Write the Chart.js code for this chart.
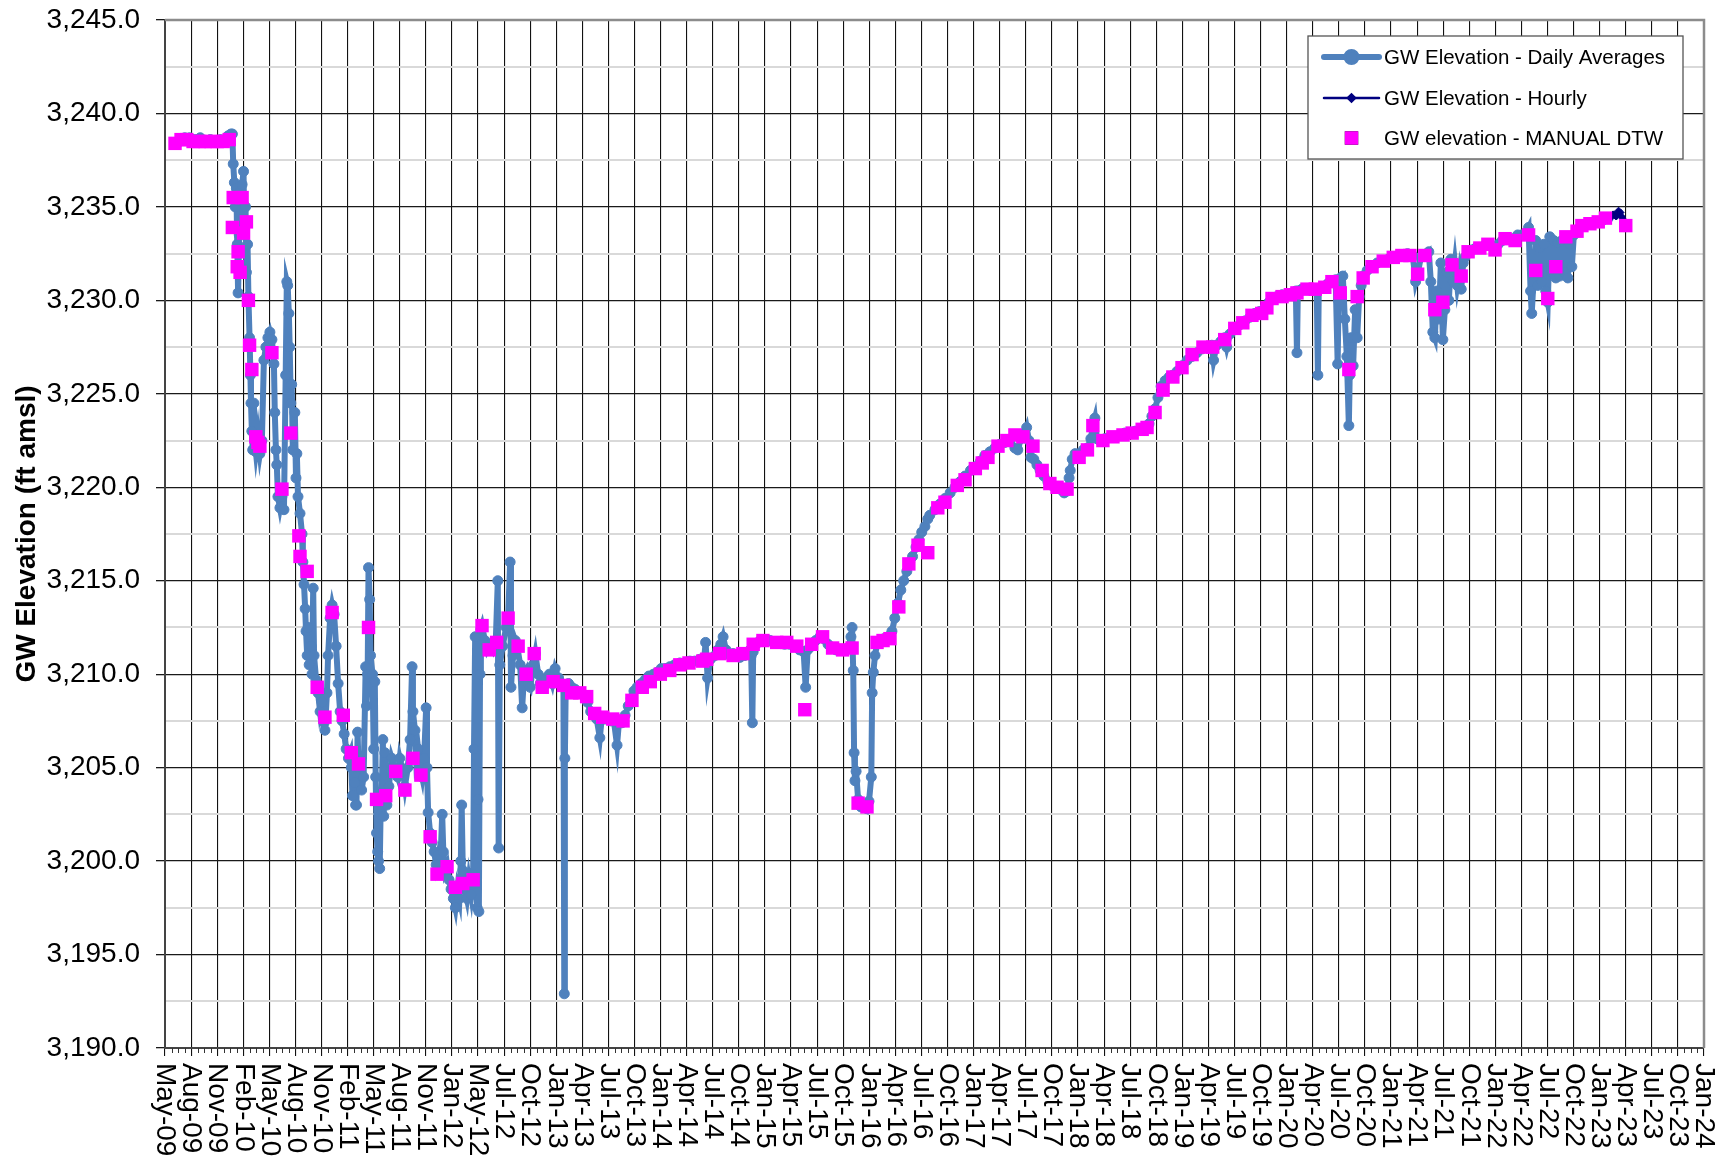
<!DOCTYPE html>
<html>
<head>
<meta charset="utf-8">
<title>GW Elevation</title>
<script src="https://cdn.jsdelivr.net/npm/chart.js@4/dist/chart.umd.min.js"></script>
<style>
  html, body { margin: 0; padding: 0; background: #fff; }
</style>
</head>
<body>
<canvas id="myChart" width="1722" height="1162"></canvas>
<script>
// x axis: Excel-style date axis, first tick 5 May 2009, one major tick every 91 days
var axisStart = '2009-05-05';
var tickStepDays = 91;
var xTickLabels = ['May-09','Aug-09','Nov-09','Feb-10','May-10','Aug-10','Nov-10','Feb-11','May-11','Aug-11',
  'Nov-11','Jan-12','May-12','Jul-12','Oct-12','Jan-13','Apr-13','Jul-13','Oct-13','Jan-14',
  'Apr-14','Jul-14','Oct-14','Jan-15','Apr-15','Jul-15','Oct-15','Jan-16','Apr-16','Jul-16',
  'Oct-16','Jan-17','Apr-17','Jul-17','Oct-17','Jan-18','Apr-18','Jul-18','Oct-18','Jan-19',
  'Apr-19','Jul-19','Oct-19','Jan-20','Apr-20','Jul-20','Oct-20','Jan-21','Apr-21','Jul-21',
  'Oct-21','Jan-22','Apr-22','Jul-22','Oct-22','Jan-23','Apr-23','Jul-23','Oct-23','Jan-24'];
var yMin = 3190, yMax = 3245;

// GW Elevation - Daily Averages
var dailyDates = [
  '2009-06-16','2009-06-26','2009-07-13','2009-07-30','2009-08-18','2009-09-05','2009-09-22','2009-10-10','2009-10-27','2009-11-14',
  '2009-12-01','2009-12-11','2009-12-21','2009-12-26','2009-12-29',
  '2010-01-02','2010-01-05','2010-01-09','2010-01-12','2010-01-15','2010-01-19','2010-01-22','2010-01-26','2010-01-29','2010-02-03',
  '2010-02-06','2010-02-10','2010-02-13','2010-02-17','2010-02-20','2010-02-24','2010-02-27','2010-03-01','2010-03-04','2010-03-07',
  '2010-03-11','2010-03-14','2010-03-18','2010-03-25','2010-04-01','2010-04-08','2010-04-15','2010-04-22','2010-04-29','2010-05-06',
  '2010-05-13','2010-05-20','2010-05-23','2010-05-27','2010-05-30','2010-06-03','2010-06-10','2010-06-17','2010-06-24','2010-06-30',
  '2010-07-04','2010-07-07','2010-07-11','2010-07-14','2010-07-18','2010-07-21','2010-07-25','2010-08-01','2010-08-05','2010-08-08',
  '2010-08-12','2010-08-19','2010-08-26','2010-08-29','2010-09-02','2010-09-06','2010-09-09','2010-09-13','2010-09-16','2010-09-20',
  '2010-09-27','2010-09-30','2010-10-04','2010-10-07','2010-10-14','2010-10-21','2010-10-28','2010-11-04','2010-11-11','2010-11-14',
  '2010-11-21','2010-11-25','2010-12-02','2010-12-09','2010-12-16','2010-12-23','2010-12-30',
  '2011-01-06','2011-01-13','2011-01-20','2011-01-27','2011-02-04','2011-02-11','2011-02-14','2011-02-18','2011-02-25','2011-03-01',
  '2011-03-04','2011-03-08','2011-03-11','2011-03-18','2011-03-22','2011-03-29','2011-04-05','2011-04-08','2011-04-12','2011-04-15',
  '2011-04-19','2011-04-22','2011-04-29','2011-05-03','2011-05-07','2011-05-10','2011-05-13','2011-05-17','2011-05-20','2011-05-24',
  '2011-05-27','2011-05-31','2011-06-04','2011-06-07','2011-06-11','2011-06-18','2011-06-25','2011-07-05','2011-07-15','2011-07-26',
  '2011-08-02','2011-08-13','2011-08-20','2011-08-30','2011-09-07','2011-09-14','2011-09-17','2011-09-24','2011-09-28','2011-10-05',
  '2011-10-12','2011-10-19','2011-10-26','2011-11-02','2011-11-05','2011-11-09','2011-11-16','2011-11-23','2011-11-30','2011-12-07',
  '2011-12-14','2011-12-21','2011-12-28',
  '2012-01-01','2012-01-07','2012-01-14','2012-01-21','2012-01-28','2012-02-05','2012-02-12','2012-02-19','2012-02-26','2012-03-02',
  '2012-03-05','2012-03-09','2012-03-16','2012-03-23','2012-03-30','2012-04-07','2012-04-14','2012-04-17','2012-04-21','2012-04-24',
  '2012-04-28','2012-05-01','2012-05-04','2012-05-08','2012-05-11','2012-05-15','2012-05-25','2012-06-02','2012-06-12','2012-06-22',
  '2012-07-02','2012-07-09','2012-07-12','2012-07-16','2012-07-26','2012-08-07','2012-08-14','2012-08-21','2012-08-24','2012-08-31',
  '2012-09-08','2012-09-15','2012-09-25','2012-10-02','2012-10-09','2012-10-16','2012-10-23','2012-10-30','2012-11-10','2012-11-17',
  '2012-11-27','2012-12-04','2012-12-14','2012-12-25',
  '2013-01-05','2013-01-15','2013-01-25','2013-02-06','2013-02-16','2013-02-23','2013-02-26','2013-02-28','2013-03-03','2013-03-13',
  '2013-03-24','2013-04-04','2013-04-14','2013-04-28','2013-05-08','2013-05-18','2013-05-29','2013-06-09','2013-06-19','2013-06-30',
  '2013-07-07','2013-07-17','2013-07-27','2013-08-08','2013-08-18','2013-08-29','2013-09-05','2013-09-15','2013-09-26','2013-10-07',
  '2013-10-17','2013-10-27','2013-11-07','2013-11-21','2013-12-05','2013-12-18',
  '2014-01-03','2014-01-16','2014-01-30','2014-02-13','2014-03-01','2014-03-18','2014-04-05','2014-04-22','2014-05-10','2014-05-27',
  '2014-06-14','2014-06-28','2014-07-04','2014-07-11','2014-07-21','2014-08-06','2014-08-16','2014-08-26','2014-09-03','2014-09-13',
  '2014-09-27','2014-10-08','2014-10-21','2014-11-01','2014-11-18','2014-12-07','2014-12-10','2014-12-14','2014-12-17','2014-12-27',
  '2015-01-10','2015-01-27','2015-02-14','2015-03-02','2015-03-19','2015-04-06','2015-04-23','2015-05-11','2015-05-28','2015-06-11',
  '2015-06-18','2015-06-25','2015-07-09','2015-07-23','2015-08-07','2015-08-20','2015-09-04','2015-09-18','2015-10-02','2015-10-15',
  '2015-10-29','2015-11-13','2015-11-23','2015-11-27','2015-12-01','2015-12-04','2015-12-07','2015-12-11','2015-12-18','2015-12-28',
  '2016-01-08','2016-01-18','2016-01-25','2016-02-02','2016-02-05','2016-02-09','2016-02-15','2016-02-22','2016-03-03','2016-03-17',
  '2016-03-31','2016-04-14','2016-04-24','2016-05-05','2016-05-15','2016-05-25','2016-06-05','2016-06-15','2016-06-25','2016-07-07',
  '2016-07-17','2016-07-27','2016-08-07','2016-08-17','2016-08-24','2016-09-11','2016-09-28','2016-10-16','2016-11-03','2016-11-20',
  '2016-12-08','2016-12-25',
  '2017-01-13','2017-01-30','2017-02-17','2017-03-04','2017-03-22','2017-04-08','2017-04-26','2017-05-13','2017-05-30','2017-06-17',
  '2017-06-27','2017-07-08','2017-07-21','2017-07-28','2017-08-05','2017-08-12','2017-08-22','2017-09-02','2017-09-13','2017-09-26',
  '2017-10-10','2017-10-24','2017-11-07','2017-11-21','2017-12-06','2017-12-16','2017-12-23','2017-12-27',
  '2018-01-03','2018-01-13','2018-01-27','2018-02-11','2018-02-25','2018-03-09','2018-03-16','2018-03-23','2018-03-30','2018-04-09',
  '2018-04-27','2018-05-14','2018-06-01','2018-06-18','2018-07-05','2018-07-23','2018-08-10','2018-08-27','2018-09-14','2018-09-28',
  '2018-10-08','2018-10-19','2018-10-29','2018-11-09','2018-11-23','2018-12-07','2018-12-20',
  '2019-01-04','2019-01-21','2019-02-08','2019-02-25','2019-03-14','2019-03-31','2019-04-18','2019-05-05','2019-05-11','2019-05-22',
  '2019-06-05','2019-06-19','2019-06-26','2019-07-07','2019-07-24','2019-08-11','2019-08-28','2019-09-15','2019-10-02','2019-10-19',
  '2019-11-06','2019-11-20','2019-12-04','2019-12-18',
  '2020-01-05','2020-01-22','2020-02-09','2020-02-22','2020-02-26','2020-02-29','2020-03-14','2020-04-01','2020-04-18','2020-05-05',
  '2020-05-09','2020-05-12','2020-05-26','2020-06-13','2020-06-30','2020-07-10','2020-07-17','2020-07-20','2020-07-27','2020-08-04',
  '2020-08-11','2020-08-18','2020-08-25','2020-08-28','2020-09-02','2020-09-09','2020-09-16','2020-09-23','2020-09-30','2020-10-07',
  '2020-10-14','2020-10-28','2020-11-14','2020-12-02','2020-12-23',
  '2021-01-10','2021-01-27','2021-02-13','2021-03-01','2021-03-18','2021-04-05','2021-04-15','2021-04-22','2021-05-03','2021-05-17',
  '2021-05-31','2021-06-07','2021-06-14','2021-06-21','2021-06-28','2021-07-05','2021-07-12','2021-07-19','2021-07-26','2021-08-02',
  '2021-08-09','2021-08-16','2021-08-23','2021-08-30','2021-09-07','2021-09-14','2021-09-21','2021-09-28','2021-10-04','2021-10-15',
  '2021-10-29','2021-11-11','2021-11-25','2021-12-09','2021-12-23',
  '2022-01-07','2022-01-17','2022-01-28','2022-02-11','2022-02-25','2022-03-10','2022-03-24','2022-04-06','2022-04-20','2022-05-04',
  '2022-05-14','2022-05-21','2022-05-25','2022-06-02','2022-06-08','2022-06-15','2022-06-22','2022-06-29','2022-07-06','2022-07-13',
  '2022-07-20','2022-07-27','2022-08-03','2022-08-10','2022-08-17','2022-08-24','2022-08-31','2022-09-07','2022-09-14','2022-09-21',
  '2022-09-28','2022-10-05','2022-10-12','2022-10-19','2022-10-30','2022-11-09','2022-11-23','2022-12-07','2022-12-24',
  '2023-01-12','2023-01-29','2023-02-16'
];
var dailyLevels = [
  3238.4,3238.6,3238.7,3238.7,3238.6,3238.7,3238.5,3238.6,3238.5,3238.6,
  3238.6,3238.8,3238.9,3238.9,3237.3,
  3236.3,3235.0,3236.0,3233.0,3230.4,3233.5,3235.8,3234.0,3236.2,3236.9,
  3233.5,3235.0,3231.5,3233.0,3230.2,3228.0,3226.0,3224.5,3223.0,3222.0,
  3224.5,3222.5,3221.9,3222.8,3221.8,3222.5,3226.8,3227.5,3228.0,3228.3,
  3227.9,3226.6,3224.0,3222.0,3221.2,3219.5,3218.9,3219.5,3218.8,3226.0,
  3231.0,3230.8,3229.3,3227.5,3224.5,3225.5,3222.0,3224.0,3220.5,3221.8,
  3219.5,3218.6,3217.5,3216.0,3214.8,3213.5,3212.3,3211.0,3212.5,3210.5,
  3211.5,3210.0,3214.6,3211.0,3209.7,3209.0,3208.0,3208.5,3207.4,3207.0,
  3209.0,3211.0,3213.0,3213.7,3213.2,3211.5,3209.5,
  3208.0,3207.5,3206.8,3206.0,3205.5,3205.8,3205.0,3203.5,3204.2,3203.0,
  3203.0,3206.9,3205.0,3205.3,3203.8,3204.5,3210.4,3208.3,3210.0,3215.7,
  3214.0,3211.0,3210.0,3206.0,3209.6,3204.5,3201.5,3200.5,3200.0,3199.6,
  3202.5,3203.5,3206.5,3202.4,3205.8,3203.0,3204.0,3205.5,3205.0,3204.5,
  3205.5,3204.8,3204.0,3205.0,3206.5,3210.4,3208.0,3207.0,3205.5,3206.0,
  3205.0,3204.5,3205.5,3208.2,3205.0,3202.6,3201.5,3201.0,3200.5,3199.8,
  3200.3,3199.5,3202.5,
  3200.5,3199.5,3199.8,3199.0,3198.5,3198.0,3197.5,3198.5,3198.0,3200.0,
  3203.0,3199.5,3198.5,3198.0,3199.0,3198.2,3199.3,3206.0,3212.0,3199.0,
  3197.5,3203.3,3197.3,3210.0,3212.4,3212.6,3211.8,3211.3,3211.6,3211.3,
  3211.8,3215.0,3200.7,3210.5,3211.5,3212.5,3213.0,3216.0,3209.3,3211.0,
  3211.8,3211.5,3210.5,3208.2,3210.0,3210.2,3209.5,3209.3,3210.5,3211.1,
  3210.0,3209.5,3209.3,3209.8,
  3210.0,3209.5,3210.3,3209.8,3209.5,3209.3,3192.9,3205.5,3209.3,3209.5,
  3209.3,3209.2,3209.0,3209.0,3208.8,3208.5,3208.0,3207.8,3207.6,3206.6,
  3207.7,3207.6,3207.6,3207.5,3207.5,3206.2,3207.5,3207.4,3207.8,3208.3,
  3208.7,3209.1,3209.3,3209.5,3209.7,3209.9,
  3210.0,3210.1,3210.3,3210.3,3210.4,3210.5,3210.6,3210.6,3210.7,3210.7,
  3210.8,3210.7,3211.7,3209.8,3210.8,3211.0,3211.3,3211.6,3212.0,3211.3,
  3211.0,3211.1,3211.0,3210.9,3211.0,3211.3,3211.0,3207.4,3211.2,3211.6,
  3211.8,3211.8,3211.8,3211.7,3211.7,3211.6,3211.6,3211.5,3211.3,3211.2,
  3209.3,3211.3,3211.5,3211.8,3212.0,3211.9,3211.6,3211.4,3211.3,3211.3,
  3211.3,3211.4,3212.0,3212.5,3210.2,3205.8,3204.3,3204.8,3203.3,3202.9,
  3203.0,3202.8,3203.2,3204.5,3209.0,3210.1,3211.0,3211.6,3211.8,3211.9,
  3212.0,3212.3,3213.0,3213.8,3214.5,3215.0,3215.5,3216.0,3216.3,3216.8,
  3217.2,3217.6,3217.9,3218.3,3218.5,3218.8,3219.1,3219.4,3219.7,3220.0,
  3220.3,3220.6,
  3220.9,3221.1,3221.4,3221.7,3221.9,3222.1,3222.3,3222.4,3222.5,3222.1,
  3222.0,3222.6,3222.9,3223.2,3222.5,3221.6,3221.5,3221.2,3220.9,3220.6,
  3220.3,3220.1,3220.0,3219.9,3219.7,3219.8,3220.5,3220.9,
  3221.5,3221.8,3221.8,3222.0,3222.1,3222.6,3223.3,3223.7,3222.6,3222.5,
  3222.6,3222.7,3222.7,3222.8,3222.9,3222.9,3223.0,3223.1,3223.2,3223.4,
  3223.8,3224.2,3224.8,3225.4,3225.7,3225.9,3226.0,
  3226.2,3226.5,3226.8,3227.0,3227.2,3227.4,3227.5,3227.6,3226.8,3227.6,
  3227.8,3228.0,3227.5,3228.2,3228.5,3228.7,3228.9,3229.1,3229.3,3229.4,
  3229.6,3229.9,3230.1,3230.2,
  3230.3,3230.3,3230.4,3230.5,3227.2,3230.5,3230.6,3230.6,3230.6,3230.6,
  3226.0,3230.6,3230.7,3230.9,3231.0,3231.1,3226.6,3230.0,3231.2,3231.3,
  3229.0,3227.0,3223.3,3226.0,3228.0,3226.5,3229.5,3228.0,3230.2,3230.8,
  3231.3,3231.6,3231.8,3232.0,3232.1,
  3232.2,3232.3,3232.4,3232.4,3232.5,3232.4,3231.0,3231.4,3232.3,3232.4,
  3232.6,3231.0,3228.3,3228.0,3230.5,3229.0,3232.0,3227.9,3229.5,3231.5,
  3230.0,3232.2,3231.0,3232.0,3230.8,3231.5,3230.6,3232.0,3232.3,3232.6,
  3232.7,3232.8,3232.8,3232.9,3233.0,
  3232.9,3232.7,3233.0,3233.2,3233.3,3233.3,3233.3,3233.5,3233.5,3233.6,
  3233.9,3230.5,3229.3,3231.5,3233.2,3230.8,3232.8,3231.0,3233.0,3230.5,
  3229.9,3233.4,3231.5,3233.2,3231.2,3233.1,3231.3,3233.2,3231.5,3233.4,
  3231.2,3233.0,3231.8,3233.5,3233.7,3233.9,3234.0,3234.1,3234.1,
  3234.2,3234.3,3234.4
];

// GW Elevation - Hourly
var hourlyDates = ['2023-02-09','2023-02-14','2023-02-19','2023-02-24','2023-03-01','2023-03-05','2023-03-10','2023-03-14','2023-03-17',
  '2023-03-21','2023-03-24','2023-03-27','2023-03-31','2023-04-03','2023-04-07','2023-04-10'];
var hourlyLevels = [3234.4,3234.4,3234.5,3234.5,3234.5,3234.6,3234.6,3234.5,3234.5,
  3234.7,3234.8,3234.7,3234.7,3234.5,3234.4,3234.2];

// GW elevation - MANUAL DTW
var manualDates = [
  '2009-06-09','2009-06-30','2009-07-20','2009-08-11','2009-09-01','2009-09-22','2009-10-13','2009-11-03','2009-11-24','2009-12-15',
  '2009-12-26','2009-12-29','2010-01-12','2010-01-15','2010-01-22','2010-01-29','2010-02-03','2010-02-13','2010-02-20','2010-02-24',
  '2010-03-04','2010-03-18','2010-03-25','2010-04-01','2010-05-13','2010-06-17','2010-07-18','2010-08-15','2010-08-19','2010-09-13',
  '2010-10-18','2010-11-14','2010-12-09','2011-01-17','2011-02-14','2011-03-11','2011-04-15','2011-05-13','2011-06-14','2011-07-19',
  '2011-08-20','2011-09-17','2011-10-15','2011-11-16','2011-12-10','2012-01-14','2012-02-12','2012-03-09','2012-04-14','2012-05-15',
  '2012-06-09','2012-07-05','2012-08-14','2012-09-18','2012-10-16','2012-11-13','2012-12-11','2013-01-18','2013-02-23','2013-03-24',
  '2013-04-21','2013-05-15','2013-06-12','2013-07-10','2013-08-14','2013-09-19','2013-10-20','2013-11-25','2013-12-23','2014-01-27',
  '2014-03-01','2014-04-05','2014-05-07','2014-06-24','2014-07-08','2014-08-22','2014-10-08','2014-11-11','2014-12-17','2015-01-20',
  '2015-03-09','2015-04-13','2015-05-18','2015-06-15','2015-07-09','2015-08-16','2015-09-20','2015-10-25','2015-11-27','2015-12-18',
  '2016-01-18','2016-02-22','2016-03-14','2016-04-07','2016-05-08','2016-06-12','2016-07-14','2016-08-17','2016-09-21','2016-10-16',
  '2016-11-28','2016-12-25','2017-01-30','2017-02-23','2017-03-15','2017-04-19','2017-05-20','2017-06-17','2017-07-15','2017-08-19',
  '2017-09-20','2017-10-17','2017-11-11','2017-12-16','2018-01-27','2018-02-25','2018-03-16','2018-04-20','2018-05-25','2018-06-29',
  '2018-07-31','2018-09-04','2018-09-21','2018-10-19','2018-11-16','2018-12-20','2019-01-21','2019-02-25','2019-04-04','2019-05-08',
  '2019-06-19','2019-07-24','2019-08-21','2019-09-22','2019-10-26','2019-11-13','2019-12-01','2020-01-05','2020-02-03','2020-02-26',
  '2020-04-01','2020-04-30','2020-06-02','2020-06-27','2020-07-26','2020-08-25','2020-09-23','2020-10-14','2020-11-14','2020-12-23',
  '2021-01-27','2021-02-26','2021-03-26','2021-04-22','2021-05-17','2021-06-21','2021-07-19','2021-08-20','2021-09-21','2021-10-15',
  '2021-11-25','2021-12-23','2022-01-17','2022-02-21','2022-03-28','2022-05-14','2022-06-08','2022-07-20','2022-08-17','2022-09-21',
  '2022-10-30','2022-11-16','2022-12-14','2023-01-12','2023-02-06','2023-04-18'
];
var manualLevels = [
  3238.4,3238.6,3238.6,3238.5,3238.5,3238.5,3238.5,3238.5,3238.5,3238.6,
  3233.9,3235.5,3231.8,3232.6,3231.5,3235.5,3233.6,3234.2,3230.0,3227.6,
  3226.3,3222.7,3222.4,3222.2,3227.2,3219.9,3222.9,3217.4,3216.3,3215.5,
  3209.3,3207.7,3213.3,3207.8,3205.8,3205.2,3212.5,3203.3,3203.5,3204.8,
  3203.8,3205.5,3204.6,3201.3,3199.3,3199.7,3198.6,3198.8,3199.0,3212.6,
  3211.3,3211.7,3213.0,3211.5,3210.0,3211.1,3209.3,3209.6,3209.4,3209.0,
  3209.0,3208.8,3207.9,3207.7,3207.6,3207.5,3208.6,3209.3,3209.6,3210.0,
  3210.2,3210.5,3210.6,3210.7,3210.8,3211.1,3211.0,3211.1,3211.6,3211.8,
  3211.7,3211.7,3211.5,3208.1,3211.6,3212.0,3211.4,3211.3,3211.4,3203.1,
  3202.9,3211.7,3211.8,3211.9,3213.6,3215.9,3216.9,3216.5,3218.9,3219.2,
  3220.1,3220.4,3221.0,3221.3,3221.6,3222.2,3222.5,3222.8,3222.7,3222.2,
  3220.9,3220.2,3220.0,3219.9,3221.6,3222.0,3223.3,3222.5,3222.7,3222.8,
  3222.9,3223.1,3223.2,3224.0,3225.2,3225.9,3226.4,3227.1,3227.5,3227.5,
  3227.9,3228.5,3228.8,3229.2,3229.3,3229.6,3230.1,3230.2,3230.3,3230.4,
  3230.6,3230.6,3230.7,3231.0,3230.4,3226.3,3230.2,3231.2,3231.8,3232.1,
  3232.3,3232.4,3232.4,3231.4,3232.4,3229.5,3229.9,3231.9,3231.3,3232.6,
  3232.8,3233.0,3232.7,3233.3,3233.2,3233.5,3231.6,3230.1,3231.8,3233.4,
  3233.7,3234.0,3234.1,3234.2,3234.4,3234.0
];

var DAY = 86400000;
var x0 = Date.parse(axisStart);
var xStep = tickStepDays * DAY;
var xMax = x0 + (xTickLabels.length - 1) * xStep;

function toPoints(dates, vals) {
    return dates.map(function (d, i) { return { x: Date.parse(d), y: vals[i] }; });
}
function isMajor(v) {
    return Math.abs(v / 5 - Math.round(v / 5)) < 1e-6;
}

var FONT = '"Liberation Sans", Arial, sans-serif';
Chart.defaults.font.family = FONT;
Chart.defaults.color = '#000';

// draws the clockwise x labels, minor ticks, the plot frame and the legend box
var extras = {
    id: 'extras',
    beforeDatasetsDraw: function (chart) {
        var a = chart.chartArea, c = chart.ctx;
        c.save();
        c.strokeStyle = '#8c8c8c';
        c.lineWidth = 2.5;
        c.beginPath();
        c.moveTo(a.left, a.top);
        c.lineTo(a.right, a.top);
        c.lineTo(a.right, a.bottom);
        c.stroke();
        c.restore();
    },
    afterDraw: function (chart) {
        var c = chart.ctx, xs = chart.scales.x, a = chart.chartArea;
        c.save();
        // minor ticks
        c.strokeStyle = '#333';
        c.lineWidth = 1;
        c.beginPath();
        for (var i = 0; i < xTickLabels.length - 1; i++) {
            for (var j = 1; j < 4; j++) {
                var px = Math.round(xs.getPixelForValue(x0 + (i + j / 4) * xStep)) + 0.5;
                c.moveTo(px, a.bottom);
                c.lineTo(px, a.bottom + 5);
            }
        }
        c.stroke();
        // tick labels, turned clockwise
        c.font = '28px ' + FONT;
        c.fillStyle = '#000';
        c.textAlign = 'left';
        c.textBaseline = 'middle';
        xTickLabels.forEach(function (lab, i) {
            var px = xs.getPixelForValue(x0 + i * xStep);
            c.save();
            c.translate(px, a.bottom + 15);
            c.rotate(Math.PI / 2);
            c.fillText(lab, 0, 0);
            c.restore();
        });
        c.restore();
        drawLegend(chart);
    }
};

function drawLegend(chart) {
    var c = chart.ctx, a = chart.chartArea;
    var ds = chart.data.datasets;
    var bw = 375, bh = 123;
    var bx = a.right - 21 - bw, by = a.top + 16;
    var rows = [by + 21, by + 62, by + 102];
    c.save();
    c.fillStyle = '#fff';
    c.fillRect(bx, by, bw, bh);
    c.strokeStyle = '#555';
    c.lineWidth = 1.3;
    c.strokeRect(bx, by, bw, bh);
    var sx = bx + 16, ex = bx + 71, mx = (sx + ex) / 2;
    ds.forEach(function (d, r) {
        var y = rows[r];
        if (d.showLine !== false) {
            c.strokeStyle = d.borderColor;
            c.lineWidth = d.borderWidth;
            c.lineCap = 'round';
            c.beginPath();
            c.moveTo(sx, y);
            c.lineTo(ex, y);
            c.stroke();
        }
        Chart.helpers.drawPoint(c, {
            pointStyle: d.pointStyle,
            radius: d.pointRadius,
            borderWidth: d.pointBorderWidth,
            rotation: 0
        }, mx, y);
        c.fillStyle = d.pointBackgroundColor;
        c.fill();
        c.fillStyle = '#000';
        c.font = '20.5px ' + FONT;
        c.textAlign = 'left';
        c.textBaseline = 'middle';
        c.fillText(d.label, bx + 76, y + 1);
    });
    c.restore();
}

var ctx = document.getElementById('myChart');
var myChart = new Chart(ctx, {
    type: 'line',
    data: {
        datasets: [{
            label: 'GW Elevation - Daily Averages',
            data: toPoints(dailyDates, dailyLevels),
            borderColor: '#4F81BD',
            borderWidth: 6,
            pointStyle: 'circle',
            pointRadius: 5,
            pointBorderWidth: 1,
            pointBackgroundColor: '#4F81BD',
            pointBorderColor: '#4F81BD',
            tension: 0,
            order: 2
        }, {
            label: 'GW Elevation - Hourly',
            data: toPoints(hourlyDates, hourlyLevels),
            borderColor: '#000080',
            borderWidth: 2.5,
            pointStyle: 'rectRot',
            pointRadius: 3.5,
            pointBorderWidth: 1,
            pointBackgroundColor: '#000080',
            pointBorderColor: '#000080',
            tension: 0,
            order: 1
        }, {
            label: 'GW elevation - MANUAL DTW',
            data: toPoints(manualDates, manualLevels),
            showLine: false,
            borderColor: '#FF00FF',
            borderWidth: 0,
            pointStyle: 'rect',
            pointRadius: 9.5,
            pointBorderWidth: 0,
            pointBackgroundColor: '#FF00FF',
            pointBorderColor: '#FF00FF',
            order: 0
        }]
    },
    options: {
        responsive: false,
        animation: false,
        events: [],
        layout: { padding: { top: 20, right: 18, bottom: 0, left: 0 } },
        plugins: {
            legend: { display: false },
            tooltip: { enabled: false }
        },
        scales: {
            x: {
                type: 'linear',
                min: x0,
                max: xMax,
                afterBuildTicks: function (scale) {
                    scale.ticks = xTickLabels.map(function (l, i) { return { value: x0 + i * xStep }; });
                },
                afterFit: function (scale) { scale.height = 114; },
                ticks: { display: false },
                grid: { color: '#111', lineWidth: 1.1, tickLength: 8, tickColor: '#111' },
                border: { color: '#444', width: 2 }
            },
            y: {
                min: yMin,
                max: yMax,
                afterFit: function (scale) {
                    scale.width = 165;
                    scale.paddingTop = 0;
                    scale.paddingBottom = 0;
                },
                ticks: {
                    stepSize: 2.5,
                    padding: 16,
                    font: { size: 28 },
                    color: '#000',
                    callback: function (v) {
                        return isMajor(v) ? v.toLocaleString('en-US', { minimumFractionDigits: 1, maximumFractionDigits: 1 }) : '';
                    }
                },
                grid: {
                    color: function (c) { return c.tick && isMajor(c.tick.value) ? '#1a1a1a' : '#d9d9d9'; },
                    lineWidth: function (c) { return c.tick && isMajor(c.tick.value) ? 1.3 : 2; },
                    tickLength: 9,
                    tickColor: function (c) { return c.tick && isMajor(c.tick.value) ? '#1a1a1a' : 'rgba(0,0,0,0)'; }
                },
                border: { color: '#444', width: 2 },
                title: {
                    display: true,
                    text: 'GW Elevation (ft amsl)',
                    font: { size: 28, weight: 'bold' },
                    color: '#000',
                    padding: { top: 10, bottom: 0 }
                }
            }
        }
    },
    plugins: [extras]
});
</script>
</body>
</html>
